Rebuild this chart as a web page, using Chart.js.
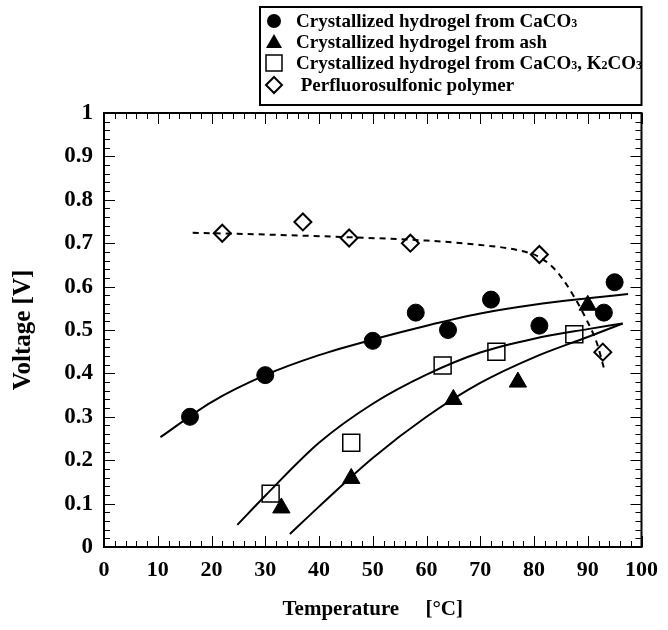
<!DOCTYPE html>
<html>
<head>
<meta charset="utf-8">
<script src="https://cdn.jsdelivr.net/npm/chart.js@4.4.1/dist/chart.umd.min.js"></script>
<style>
    html, body { margin: 0; padding: 0; background: #fff; }
</style>
</head>
<body>
<canvas id="voltageChart" width="668" height="630"></canvas>
<script>
const caco3Temp = [16, 30, 50, 58, 64, 72, 81, 93, 95];
const caco3Volt = [0.30, 0.396, 0.475, 0.54, 0.50, 0.57, 0.51, 0.54, 0.61];

const ashTemp = [33, 46, 65, 77, 90];
const ashVolt = [0.09, 0.158, 0.34, 0.38, 0.557];

const k2co3Temp = [31, 46, 63, 73, 87.5];
const k2co3Volt = [0.123, 0.24, 0.418, 0.45, 0.49];

const pfsTemp = [22, 37, 45.6, 57, 81, 92.8];
const pfsVolt = [0.723, 0.749, 0.712, 0.70, 0.674, 0.449];

// fitted curves
const caco3FitTemp = [10.5, 20, 30, 40, 50, 60, 70, 80, 90, 97.5];
const caco3FitVolt = [0.253, 0.334, 0.396, 0.442, 0.478, 0.510, 0.538, 0.558, 0.573, 0.583];

const k2co3FitTemp = [24.8, 30, 40, 50, 60, 70, 80, 90, 96.5];
const k2co3FitVolt = [0.051, 0.118, 0.24, 0.33, 0.397, 0.448, 0.480, 0.502, 0.515];

const ashFitTemp = [34.6, 40, 50, 60, 70, 80, 90, 96.5];
const ashFitVolt = [0.03, 0.093, 0.205, 0.300, 0.378, 0.437, 0.484, 0.515];

const pfsFitTemp = [16.5, 30, 45, 60, 70, 77, 81, 84.3, 87.4, 89.8, 91.7, 93.2];
const pfsFitVolt = [0.724, 0.720, 0.714, 0.706, 0.696, 0.684, 0.668, 0.634, 0.578, 0.523, 0.470, 0.403];

// legend labels, "_3" means subscript 3
const legendLabels = [
    'Crystallized hydrogel from CaCO_3',
    'Crystallized hydrogel from ash',
    'Crystallized hydrogel from CaCO_3, K_2CO_3',
    ' Perfluorosulfonic polymer'
];

const serif = "'Liberation Serif', 'Times New Roman', serif";

function toPoints(xs, ys) {
    return xs.map((x, i) => ({ x: x, y: ys[i] }));
}

function fitLine(xs, ys, dashed) {
    return {
        data: toPoints(xs, ys),
        showLine: true,
        borderColor: '#000',
        borderWidth: 2,
        borderDash: dashed ? [6, 5] : [],
        pointRadius: 0,
        cubicInterpolationMode: 'monotone',
        fill: false
    };
}

function markers(xs, ys, style, radius, filled, lw) {
    return {
        data: toPoints(xs, ys),
        showLine: false,
        pointStyle: style,
        pointRadius: radius,
        pointHoverRadius: radius,
        pointBackgroundColor: filled ? '#000' : 'rgba(0,0,0,0)',
        pointBorderColor: '#000',
        pointBorderWidth: lw
    };
}

// frame + inward ticks on all four sides
const frameTicks = {
    id: 'frameTicks',
    afterDatasetsDraw(chart) {
        const c = chart.ctx;
        const a = chart.chartArea;
        const xs = chart.scales.x, ys = chart.scales.y;
        c.save();
        c.strokeStyle = '#000';
        c.lineWidth = 1;
        c.beginPath();
        for (let t = 0; t <= 100; t += 2) {
            const px = Math.round(xs.getPixelForValue(t)) + 0.5;
            const len = t % 10 === 0 ? 11 : 6;
            c.moveTo(px, a.bottom); c.lineTo(px, a.bottom - len);
            c.moveTo(px, a.top); c.lineTo(px, a.top + len);
        }
        for (let i = 0; i <= 50; i++) {
            const py = Math.round(ys.getPixelForValue(i / 50)) + 0.5;
            const len = i % 5 === 0 ? 11 : 6;
            c.moveTo(a.left, py); c.lineTo(a.left + len, py);
            c.moveTo(a.right, py); c.lineTo(a.right - len, py);
        }
        c.stroke();
        c.lineWidth = 2;
        c.strokeRect(a.left, a.top, a.right - a.left, a.bottom - a.top);
        c.restore();
    }
};

function drawRich(c, text, x, y, size) {
    const parts = text.split(/_(\d)/);
    let cx = x;
    parts.forEach((p, i) => {
        if (!p) return;
        if (i % 2 === 1) {
            c.font = 'bold ' + Math.round(size * 0.62) + 'px ' + serif;
            c.fillText(p, cx, y + size * 0.12);
        } else {
            c.font = 'bold ' + size + 'px ' + serif;
            c.fillText(p, cx, y);
        }
        cx += c.measureText(p).width;
    });
}

const boxLegend = {
    id: 'boxLegend',
    afterDraw(chart) {
        const c = chart.ctx;
        const right = chart.chartArea.right;
        const left = 260, top = 7, bottom = 105;
        c.save();
        c.strokeStyle = '#000';
        c.fillStyle = '#000';
        c.lineWidth = 2;
        c.strokeRect(left, top, right - left, bottom - top);
        const mx = 274, tx = 296;
        const rows = [21, 42, 63, 85];
        c.textBaseline = 'middle';
        rows.forEach((ry, i) => {
            c.beginPath();
            c.lineWidth = 2;
            if (i === 0) {
                c.arc(mx, ry, 7, 0, Math.PI * 2);
                c.fill();
            } else if (i === 1) {
                c.moveTo(mx, ry - 8); c.lineTo(mx + 8, ry + 6); c.lineTo(mx - 8, ry + 6);
                c.closePath(); c.fill();
            } else if (i === 2) {
                c.lineWidth = 1.5;
                c.rect(mx - 8, ry - 8, 16, 16); c.stroke();
            } else {
                c.moveTo(mx, ry - 8); c.lineTo(mx + 8, ry); c.lineTo(mx, ry + 8); c.lineTo(mx - 8, ry);
                c.closePath(); c.stroke();
            }
            drawRich(c, legendLabels[i], tx, ry + 1, 19);
        });
        c.restore();
    }
};

const ctx = document.getElementById('voltageChart').getContext('2d');

new Chart(ctx, {
    type: 'scatter',
    data: {
        datasets: [
            fitLine(caco3FitTemp, caco3FitVolt, false),
            fitLine(k2co3FitTemp, k2co3FitVolt, false),
            fitLine(ashFitTemp, ashFitVolt, false),
            fitLine(pfsFitTemp, pfsFitVolt, true),
            markers(caco3Temp, caco3Volt, 'circle', 8.5, true, 1),
            markers(ashTemp, ashVolt, 'triangle', 10, true, 1),
            markers(k2co3Temp, k2co3Volt, 'rect', 12, false, 1.5),
            markers(pfsTemp, pfsVolt, 'rectRot', 8.5, false, 2)
        ]
    },
    options: {
        responsive: false,
        animation: false,
        layout: { padding: { top: 113, right: 23, left: 0, bottom: 0 } },
        plugins: {
            legend: { display: false },
            tooltip: { enabled: false }
        },
        scales: {
            x: {
                type: 'linear',
                min: 0, max: 100,
                afterFit(scale) { scale.height = 83; },
                grid: { display: false, drawTicks: false },
                border: { display: false },
                ticks: {
                    stepSize: 10,
                    padding: 10,
                    color: '#000',
                    font: { family: serif, size: 22, weight: 'bold' }
                },
                title: {
                    display: true,
                    text: 'Temperature     [°C]',
                    color: '#000',
                    font: { family: serif, size: 21, weight: 'bold' },
                    padding: { top: 0, bottom: 8 }
                }
            },
            y: {
                min: 0, max: 1,
                afterFit(scale) { scale.width = 104; },
                grid: { display: false, drawTicks: false },
                border: { display: false },
                ticks: {
                    stepSize: 0.1,
                    padding: 11,
                    color: '#000',
                    font: { family: serif, size: 23, weight: 'bold' },
                    callback: v => (v === 0 || v === 1) ? String(v) : v.toFixed(1)
                },
                title: {
                    display: true,
                    text: 'Voltage [V]',
                    color: '#000',
                    font: { family: serif, size: 25, weight: 'bold' },
                    padding: { top: 9, bottom: 0 }
                }
            }
        }
    },
    plugins: [frameTicks, boxLegend]
});
</script>
</body>
</html>
